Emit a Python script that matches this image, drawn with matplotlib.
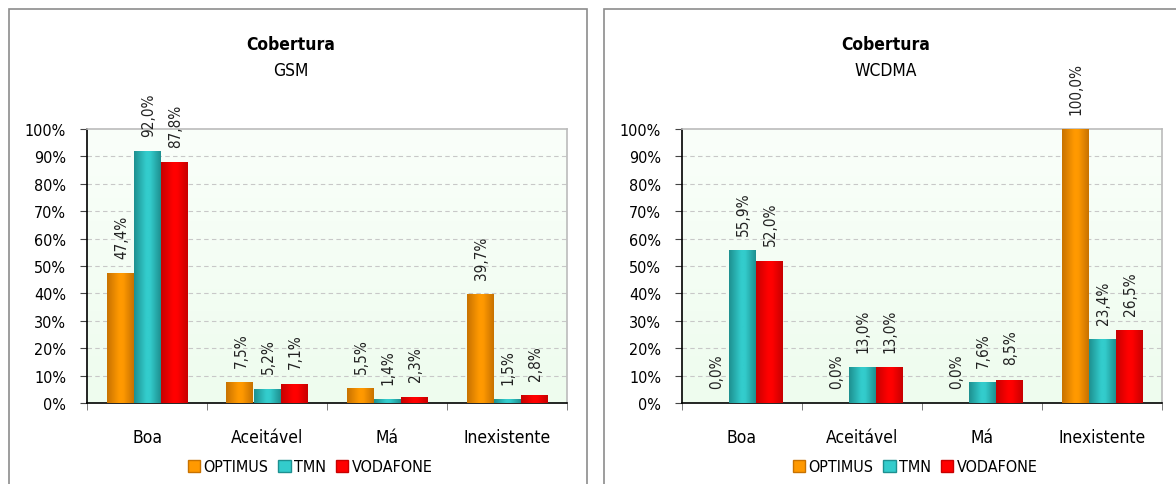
import matplotlib

matplotlib.use("Agg")
import matplotlib.pyplot as plt
import numpy as np
from matplotlib.colors import LinearSegmentedColormap
from matplotlib.patches import Rectangle, Patch

plt.rcParams["font.family"] = ["DejaVu Sans"]
plt.rcParams["font.stretch"] = "condensed"

categories = ["Boa", "Aceitável", "Má", "Inexistente"]
operators = ["OPTIMUS", "TMN", "VODAFONE"]

gsm_optimus = [47.4, 7.5, 5.5, 39.7]
gsm_tmn = [92.0, 5.2, 1.4, 1.5]
gsm_vodafone = [87.8, 7.1, 2.3, 2.8]

wcdma_optimus = [0.0, 0.0, 0.0, 100.0]
wcdma_tmn = [55.9, 13.0, 7.6, 23.4]
wcdma_vodafone = [52.0, 13.0, 8.5, 26.5]

# (dark edge, bright centre) per operator
COLORS = {
    "OPTIMUS": ("#C87200", "#FF9900"),
    "TMN": ("#1E9090", "#33CCCC"),
    "VODAFONE": ("#C80000", "#FF0000"),
}

W, H = 1176, 485


def bar_cmap(dark, light):
    return LinearSegmentedColormap.from_list(
        "g", [(0, dark), (0.45, light), (0.6, light), (1, dark)]
    )


def draw_panel(fig, rect, title_x, subtitle):
    # grey frame around the panel
    fig.patches.append(Rectangle(
        (rect[0], rect[1]), rect[2], rect[3], transform=fig.transFigure,
        fill=False, edgecolor="#8C8C8C", linewidth=1.2,
    ))
    fig.text(title_x, 1 - 45 / H, "Cobertura", ha="center", va="center",
             fontsize=12.5, fontweight="bold")
    fig.text(title_x, 1 - 71 / H, subtitle, ha="center", va="center",
             fontsize=12.5)


def draw_chart(ax, series):
    ax.set_xlim(0, len(categories))
    ax.set_ylim(0, 100)

    # plot area background gradient
    grad = np.linspace(0, 1, 100).reshape(-1, 1)
    bg = LinearSegmentedColormap.from_list("bg", ["#EEFCEE", "#FAFFFA"])
    ax.imshow(grad, cmap=bg, origin="lower", aspect="auto",
              extent=(0, 1, 0, 1), transform=ax.transAxes, zorder=0)

    for y in range(10, 100, 10):
        ax.axhline(y, color="#C8C8C8", linewidth=0.8, linestyle=(0, (4, 3)),
                   zorder=1)

    bw = 0.225
    x = np.arange(len(categories)) + 0.5
    grad_h = np.linspace(0, 1, 64).reshape(1, -1)
    for i, (name, vals) in enumerate(zip(operators, series)):
        dark, light = COLORS[name]
        cmap = bar_cmap(dark, light)
        xs = x + (i - 1) * bw
        bars = ax.bar(xs, vals, width=bw, color=light, linewidth=0, zorder=2)
        for b, v in zip(bars, vals):
            if v > 0:
                im = ax.imshow(grad_h, cmap=cmap, aspect="auto",
                               extent=(b.get_x(), b.get_x() + b.get_width(),
                                       0, v), zorder=3)
                im.set_clip_path(b)
            ax.annotate(f"{v:.1f}%".replace(".", ","),
                        (b.get_x() + b.get_width() / 2, v),
                        xytext=(1, 11), textcoords="offset points",
                        rotation=90, ha="center", va="bottom",
                        fontsize=11, color="#222222")

    ax.set_xlim(0, len(categories))
    ax.set_ylim(0, 100)
    ax.set_yticks(range(0, 101, 10))
    ax.set_yticklabels([f"{t}%" for t in range(0, 101, 10)], fontsize=11.5)
    ax.set_xticks(x)
    ax.set_xticklabels(categories, fontsize=12.5)
    ax.tick_params(axis="x", which="major", length=0, pad=18)
    ax.set_xticks(range(len(categories) + 1), minor=True)
    ax.tick_params(axis="x", which="minor", length=5, direction="out",
                   color="#666666")
    ax.tick_params(axis="y", length=5, direction="out", pad=10, color="#444444")

    for s in ("top", "right"):
        ax.spines[s].set_color("#BBBBBB")
        ax.spines[s].set_linewidth(1.2)
    for s in ("left", "bottom"):
        ax.spines[s].set_color("black")
        ax.spines[s].set_linewidth(1.2)


fig = plt.figure(figsize=(W / 100, H / 100), dpi=100)

panels = [
    ((9 / W, -0.02, 578 / W, 1.02 - 10 / H), 291 / W, "GSM",
     [gsm_optimus, gsm_tmn, gsm_vodafone], 87, 310),
    ((604 / W, -0.02, 0.5, 1.02 - 10 / H), 886 / W, "WCDMA",
     [wcdma_optimus, wcdma_tmn, wcdma_vodafone], 682, 915),
]

for rect, tx, sub, series, ax_x, leg_x in panels:
    draw_panel(fig, rect, tx, sub)
    ax = fig.add_axes([ax_x / W, (H - 404) / H, 480 / W, 274 / H])
    draw_chart(ax, series)
    handles = [Patch(facecolor=COLORS[n][1], edgecolor=COLORS[n][0])
               for n in operators]
    fig.legend(handles, operators, loc="center", ncol=3,
               bbox_to_anchor=(leg_x / W, 1 - 468 / H), frameon=False,
               fontsize=11.5, handlelength=0.8, handleheight=0.8,
               handletextpad=0.2, columnspacing=0.6)

fig.savefig("out.png", dpi=100)
